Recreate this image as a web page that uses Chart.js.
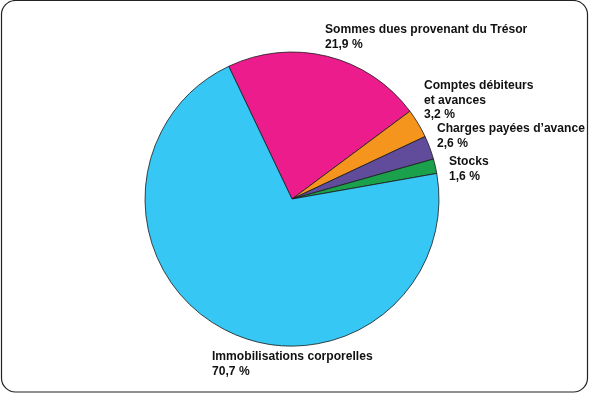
<!DOCTYPE html>
<html>
<head>
<meta charset="utf-8">
<script src="https://cdn.jsdelivr.net/npm/chart.js@4/dist/chart.umd.min.js"></script>
<style>
html,body{margin:0;padding:0;background:#fff;}
#wrap{width:589px;height:395px;position:relative;}
</style>
</head>
<body>
<div id="wrap"><canvas id="c" width="589" height="395"></canvas></div>
<script>
const categories = ["Sommes dues provenant du Trésor", "Comptes débiteurs et avances", "Charges payées d’avance", "Stocks", "Immobilisations corporelles"];
const labelLines = [["Sommes dues provenant du Trésor"], ["Comptes débiteurs", "et avances"], ["Charges payées d’avance"], ["Stocks"], ["Immobilisations corporelles"]];
const values = [21.9, 3.2, 2.6, 1.6, 70.7];
const valueLabels = ["21,9 %", "3,2 %", "2,6 %", "1,6 %", "70,7 %"];
const colors = ["#EC1C8D", "#F6951E", "#614C9C", "#1BA04C", "#36C7F4"];
// label anchor positions (left x, first line centre y)
const labelPos = [[325, 30], [424, 86], [437, 129], [449, 162], [212, 357]];

const framePlugin = {
  id: 'frame',
  beforeDraw(chart) {
    const ctx = chart.ctx;
    ctx.save();
    ctx.fillStyle = '#fff';
    ctx.fillRect(0, 0, chart.width, chart.height);
    const x = 1.5, y = 0.5, w = 586, h = 391.5, r = 14;
    ctx.beginPath();
    ctx.moveTo(x + r, y);
    ctx.lineTo(x + w - r, y);
    ctx.arcTo(x + w, y, x + w, y + r, r);
    ctx.lineTo(x + w, y + h - r);
    ctx.arcTo(x + w, y + h, x + w - r, y + h, r);
    ctx.lineTo(x + r, y + h);
    ctx.arcTo(x, y + h, x, y + h - r, r);
    ctx.lineTo(x, y + r);
    ctx.arcTo(x, y, x + r, y, r);
    ctx.closePath();
    ctx.strokeStyle = '#222';
    ctx.lineWidth = 1.2;
    ctx.stroke();
    ctx.restore();
  },
  afterDraw(chart) {
    const ctx = chart.ctx;
    ctx.save();
    ctx.font = 'bold 12.1px "Liberation Sans", Arial, sans-serif';
    ctx.fillStyle = '#111';
    ctx.textAlign = 'left';
    ctx.textBaseline = 'middle';
    const lh = 14.5;
    labelLines.forEach((lines, i) => {
      const [lx, ly] = labelPos[i];
      const all = lines.concat([valueLabels[i]]);
      all.forEach((t, k) => ctx.fillText(t, lx, ly + k * lh));
    });
    ctx.restore();
  }
};

new Chart(document.getElementById('c'), {
  type: 'pie',
  data: {
    labels: categories,
    datasets: [{
      data: values,
      backgroundColor: colors,
      borderColor: '#1a1a1a',
      borderWidth: 0.8
    }]
  },
  options: {
    responsive: false,
    animation: false,
    rotation: -25.5,
    radius: 147,
    layout: { padding: { left: 145, right: 150, top: 52, bottom: 49 } },
    plugins: { legend: { display: false }, tooltip: { enabled: false } }
  },
  plugins: [framePlugin]
});
</script>
</body>
</html>
